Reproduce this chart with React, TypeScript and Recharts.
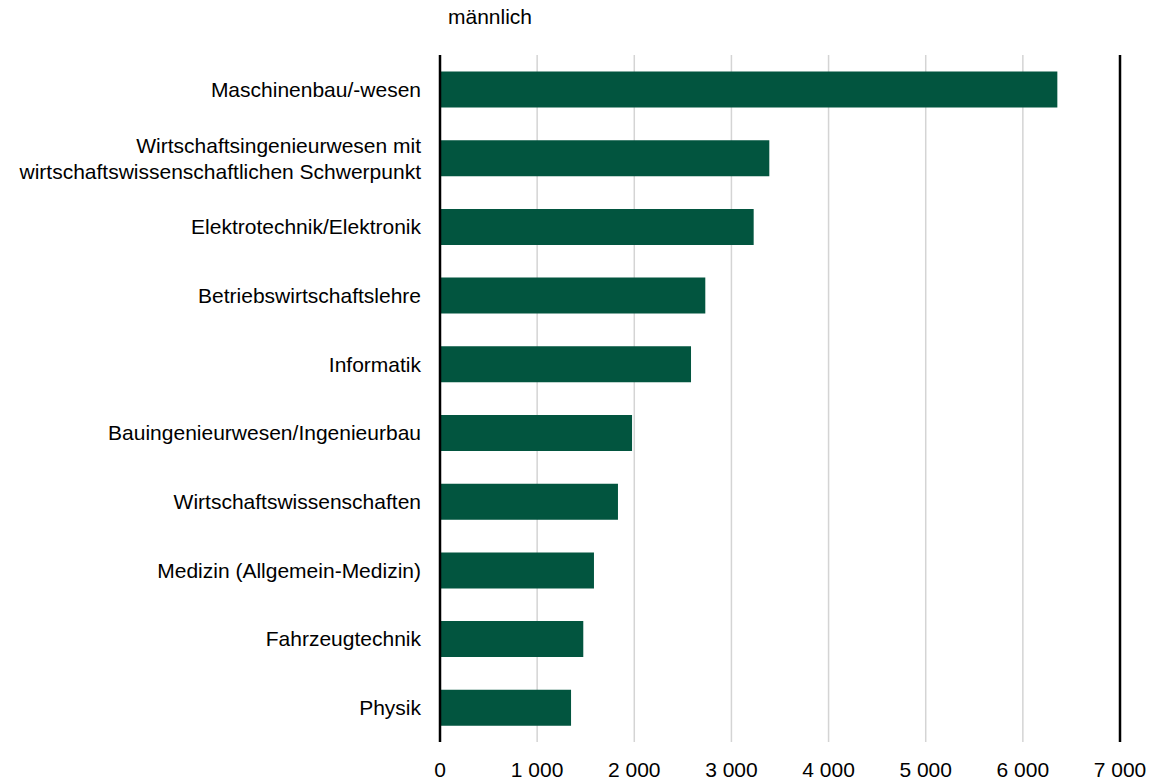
import { BarChart, Bar, XAxis, YAxis, CartesianGrid, ReferenceLine } from 'recharts';

const categories = [
    'Maschinenbau/-wesen ',
    'Wirtschaftsingenieurwesen mit\nwirtschaftswissenschaftlichen Schwerpunkt',
    'Elektrotechnik/Elektronik',
    'Betriebswirtschaftslehre ',
    'Informatik ',
    'Bauingenieurwesen/Ingenieurbau',
    'Wirtschaftswissenschaften',
    'Medizin (Allgemein-Medizin)',
    'Fahrzeugtechnik',
    'Physik',
];
const values = [6355, 3390, 3229, 2731, 2584, 1977, 1832, 1585, 1475, 1349];
const xTicks = [0, 1000, 2000, 3000, 4000, 5000, 6000, 7000];

const data = categories.map((name, i) => ({ name, value: values[i] }));

const FONT = '"Liberation Sans", Arial, sans-serif';
const FS = 21;
const GREEN = '#02553F';

const fmt = (v: number) => v.toLocaleString('en-US').replace(/,/g, ' ');

function CategoryTick({ x, y, payload }: any) {
    const lines = String(payload.value).split('\n');
    const lh = 26;
    const start = -((lines.length - 1) * lh) / 2 + 7.5;
    return (
        <text x={x} y={y} textAnchor="end" fill="#000" fontSize={FS} fontFamily={FONT}>
            {lines.map((l, i) => (
                <tspan key={i} x={x} dy={i === 0 ? start : lh}>
                    {l}
                </tspan>
            ))}
        </text>
    );
}

export default function App() {
    return (
        <div style={{ position: 'absolute', left: 0, top: 0, width: 1157, height: 782, background: '#fff' }}>
            <div
                style={{
                    position: 'absolute',
                    left: 448,
                    top: 5,
                    fontFamily: FONT,
                    fontSize: FS,
                    lineHeight: '24px',
                    color: '#000',
                }}
            >
                männlich
            </div>
            <BarChart
                width={1157}
                height={782}
                data={data}
                layout="vertical"
                margin={{ top: 55, right: 37, bottom: 0, left: 0 }}
                barCategoryGap="24%"
            >
                <CartesianGrid horizontal={false} stroke="#d4d4d4" strokeWidth={1.5} />
                <XAxis
                    type="number"
                    domain={[0, 7000]}
                    ticks={xTicks}
                    tickFormatter={fmt}
                    axisLine={false}
                    tickLine={false}
                    tickSize={0}
                    tickMargin={20}
                    height={40}
                    interval={0}
                    tick={{ fill: '#000', fontSize: FS, fontFamily: FONT }}
                />
                <YAxis
                    type="category"
                    dataKey="name"
                    width={440}
                    axisLine={false}
                    tickLine={false}
                    tickSize={0}
                    tickMargin={19}
                    interval={0}
                    tick={<CategoryTick />}
                />
                <Bar dataKey="value" fill={GREEN} isAnimationActive={false} />
                <ReferenceLine x={0} stroke="#000" strokeWidth={2.5} />
                <ReferenceLine x={7000} stroke="#000" strokeWidth={2.5} />
            </BarChart>
        </div>
    );
}
